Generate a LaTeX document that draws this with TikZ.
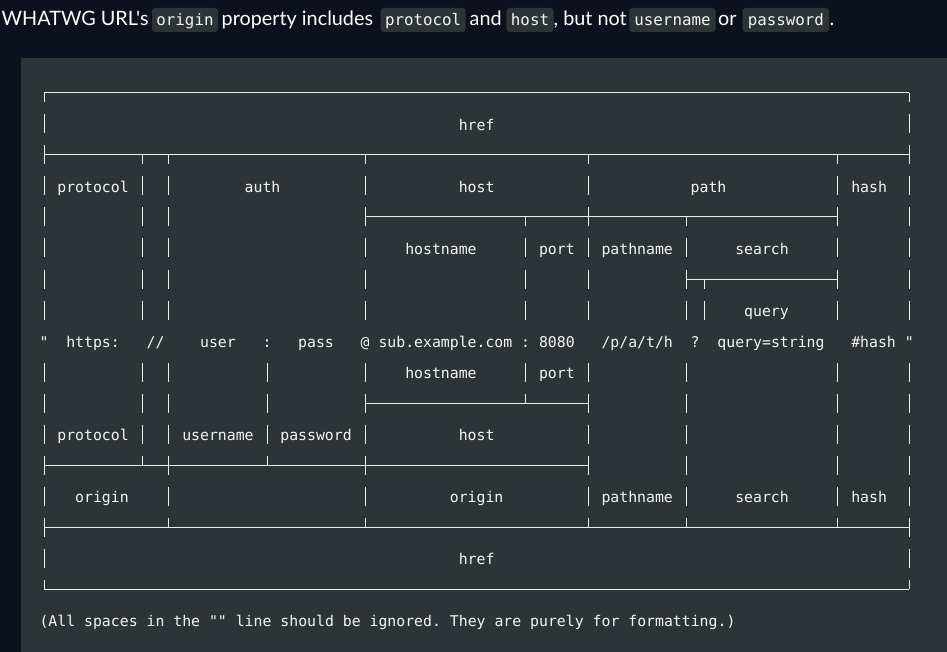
\documentclass[tikz,border=0pt]{standalone}
\usepackage{fontspec}
\setmainfont{Lato}[Ligatures=TeXOff]
\newfontfamily\monof{DejaVu Sans Mono}[Ligatures=TeXOff]
\definecolor{pagebg}{HTML}{0D111D}
\definecolor{codebg}{HTML}{2C3437}
\definecolor{ink}{HTML}{F4F4F4}
\definecolor{lineink}{HTML}{EDEDED}
% column / row geometry of the monospace art
\newcommand\cxx[1]{(44+8.92*(#1))}
\newcommand\ryy[1]{(93+31*(#1))}
\newcommand\boxv[2]{\draw[boxline] ({\cxx{#1}},{\ryy{#2}-9.5}) -- ({\cxx{#1}},{\ryy{#2}+9.5});}
\newcommand\boxdn[2]{\draw[boxline] ({\cxx{#1}},{\ryy{#2}}) -- ({\cxx{#1}},{\ryy{#2}+9.5});}
\newcommand\boxup[2]{\draw[boxline] ({\cxx{#1}},{\ryy{#2}-9.5}) -- ({\cxx{#1}},{\ryy{#2}});}
\newcommand\boxh[3]{\draw[boxline] ({\cxx{#1}},{\ryy{#3}}) -- ({\cxx{#2}},{\ryy{#3}});}
\newcommand\tx[3]{\node[arttext] (t-#1-#2) at ({\cxx{#2}-4.46},{\ryy{#1}+6.5}) {#3};}
\newcommand\icode[4]{%
  \fill[codebg,rounded corners=3pt] (#2,8) rectangle (#3,32);
  \node[inlinecode] (#1) at ({(#2+#3)/2},26) {#4};}
\tikzset{
  boxline/.style={draw=lineink,line width=1pt},
  arttext/.style={anchor=base west,inner sep=0pt,outer sep=0pt,text=ink,
    font=\monof\fontsize{14.82}{18}\selectfont\frenchspacing},
  inlinecode/.style={anchor=base,inner sep=0pt,text=ink,
    font=\monof\fontsize{15.8}{18}\selectfont},
  hdr/.style={anchor=base west,inner sep=0pt,text=white,
    font=\fontsize{19.8}{24}\selectfont}
}
\begin{document}
\begin{tikzpicture}[x=1pt,y=-1pt]
\useasboundingbox (0,0) rectangle (947,652);
\fill[pagebg] (0,0) rectangle (947,652);
\fill[codebg] (21,58) rectangle (947,652);
% header sentence
\node[hdr] (h1) at (1.5,26) {WHATWG URL's};
\icode{c1}{152}{218}{origin}
\node[hdr] (h2) at (221.5,26) {property includes};
\icode{c2}{380.7}{465.7}{protocol}
\node[hdr] (h3) at (469.5,26) {and};
\icode{c3}{506.3}{553.7}{host}
\node[hdr] (h4) at (553.5,26) {, but not};
\icode{c4}{629.3}{715.7}{username}
\node[hdr] (h5) at (718,26) {or};
\icode{c5}{742.7}{829}{password}
\node[hdr] (h6) at (829.5,26) {.};
% ---- box drawing ----
% row 0
\boxh{0}{97}{0} \boxdn{0}{0} \boxdn{97}{0}
% row 1
\foreach \c in {0,97} {\boxv{\c}{1}}
% row 2
\boxh{0}{97}{2} \boxv{0}{2} \boxv{97}{2}
\foreach \c in {11,14,36,61,89} {\boxdn{\c}{2}}
% row 3
\foreach \c in {0,11,14,36,61,89,97} {\boxv{\c}{3}}
% row 4
\foreach \c in {0,11,14,36,61,89,97} {\boxv{\c}{4}}
\boxh{36}{89}{4} \boxdn{54}{4} \boxdn{72}{4}
% row 5
\foreach \c in {0,11,14,36,54,61,72,89,97} {\boxv{\c}{5}}
% row 6
\foreach \c in {0,11,14,36,54,61,72,89,97} {\boxv{\c}{6}}
\boxh{72}{89}{6} \boxdn{74}{6}
% row 7
\foreach \c in {0,11,14,36,54,61,72,74,89,97} {\boxv{\c}{7}}
% row 9
\foreach \c in {0,11,14,25,36,54,61,72,89,97} {\boxv{\c}{9}}
% row 10
\foreach \c in {0,11,14,25,36,61,72,89,97} {\boxv{\c}{10}}
\boxh{36}{61}{10} \boxup{54}{10}
% row 11
\foreach \c in {0,11,14,25,36,61,72,89,97} {\boxv{\c}{11}}
% row 12
\boxh{0}{61}{12}
\foreach \c in {0,14,36,61,72,89,97} {\boxv{\c}{12}}
\boxup{11}{12} \boxup{25}{12}
% row 13
\foreach \c in {0,14,36,61,72,89,97} {\boxv{\c}{13}}
% row 14
\boxh{0}{97}{14} \boxv{0}{14} \boxv{97}{14}
\foreach \c in {14,36,61,72,89} {\boxup{\c}{14}}
% row 15
\foreach \c in {0,97} {\boxv{\c}{15}}
% row 16
\boxh{0}{97}{16} \boxup{0}{16} \boxup{97}{16}
% ---- labels ----
\tx{1}{47}{href}
\tx{3}{2}{protocol}
\tx{3}{23}{auth}
\tx{3}{47}{host}
\tx{3}{73}{path}
\tx{3}{91}{hash}
\tx{5}{41}{hostname}
\tx{5}{56}{port}
\tx{5}{63}{pathname}
\tx{5}{78}{search}
\tx{7}{79}{query}
\tx{8}{0}{"}
\tx{8}{3}{https:}
\tx{8}{12}{//}
\tx{8}{18}{user}
\tx{8}{25}{:}
\tx{8}{29}{pass}
\tx{8}{36}{@}
\tx{8}{38}{sub.example.com}
\tx{8}{54}{:}
\tx{8}{56}{8080}
\tx{8}{63}{/p/a/t/h}
\tx{8}{73}{?}
\tx{8}{76}{query=string}
\tx{8}{91}{\#hash}
\tx{8}{97}{"}
\tx{9}{41}{hostname}
\tx{9}{56}{port}
\tx{11}{2}{protocol}
\tx{11}{16}{username}
\tx{11}{27}{password}
\tx{11}{47}{host}
\tx{13}{4}{origin}
\tx{13}{46}{origin}
\tx{13}{63}{pathname}
\tx{13}{78}{search}
\tx{13}{91}{hash}
\tx{15}{47}{href}
\tx{17}{0}{(All spaces in the "" line should be ignored. They are purely for formatting.)}
\end{tikzpicture}
\end{document}
